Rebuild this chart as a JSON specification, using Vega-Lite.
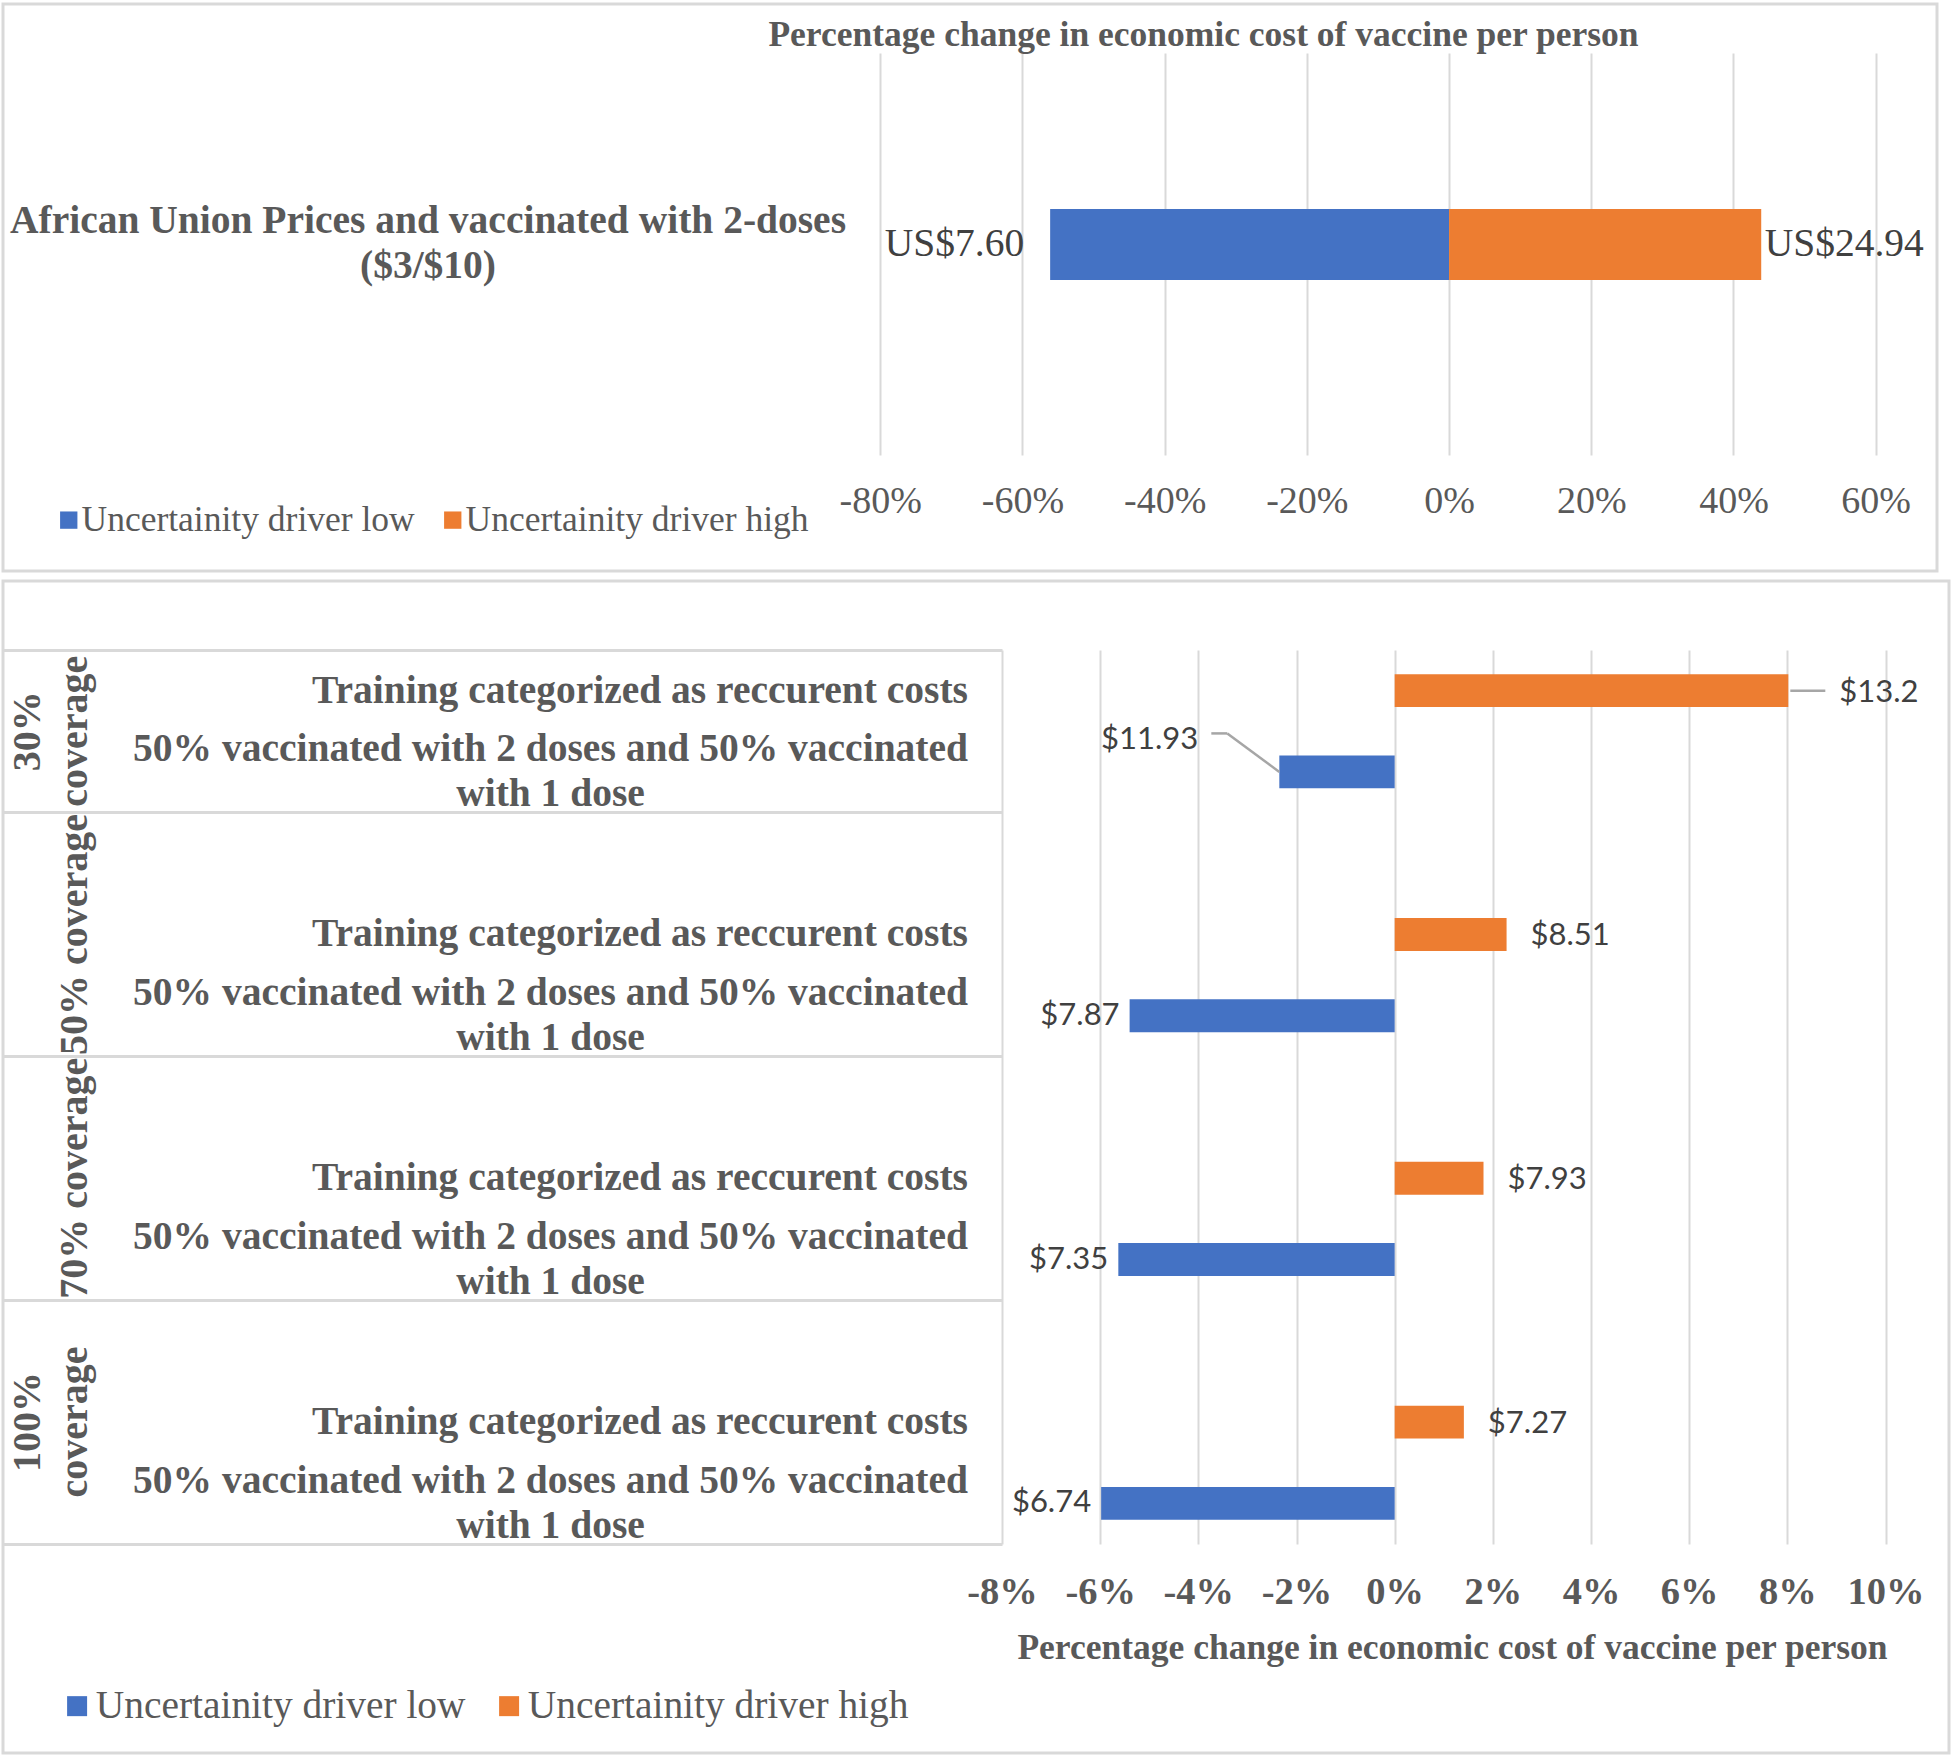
{
  "$schema": "https://vega.github.io/schema/vega-lite/v6.json",
  "background": "white",
  "padding": {"left": 0, "top": 2, "right": 0, "bottom": 0},
  "autosize": {"type": "pad"},
  "spacing": 6,
  "config": {
    "view": {"stroke": null},
    "axis": {"domain": false, "ticks": false, "grid": false, "labelFont": "Liberation Serif", "titleFont": "Liberation Serif", "labelColor": "#595959", "titleColor": "#595959", "labelOverlap": false, "labelLimit": 0, "labelBound": false, "labelFlush": false},
    "legend": {"labelFont": "Liberation Serif", "labelColor": "#595959", "labelLimit": 0, "symbolType": "square", "symbolStrokeWidth": 0}
  },
  "resolve": {"legend": {"color": "independent"}},
  "vconcat": [
    {
      "width": 1934,
      "height": 567,
      "view": {"stroke": "#d9d9d9", "strokeWidth": 3},
      "data": {"values": [
        {"scenario": "African Union Prices and vaccinated with 2-doses ($3/$10)", "driver": "Uncertainity driver low", "pct": -0.561, "cost": "US$7.60"},
        {"scenario": "African Union Prices and vaccinated with 2-doses ($3/$10)", "driver": "Uncertainity driver high", "pct": 0.439, "cost": "US$24.94"}
      ]},
      "resolve": {"axis": {"x": "independent", "y": "independent"}},
      "layer": [
        {
          "mark": {"type": "bar"},
          "encoding": {
            "y": {"field": "scenario", "type": "nominal", "scale": {"range": [49, 451], "paddingInner": 0.571, "paddingOuter": 1, "align": 0.471},
              "axis": {"orient": "left", "offset": -877.2, "title": null, "labelExpr": "split(replace(datum.label, ' (', '|('), '|')", "labelAlign": "center", "labelBaseline": "middle", "labelPadding": 452.7, "labelFontWeight": "bold", "labelFontSize": 39.5, "labelLineHeight": 45, "labelOffset": -23}},
            "x": {"field": "pct", "type": "quantitative", "stack": null, "scale": {"domain": [-0.8, 0.6], "range": [877.2, 1872.7], "nice": false, "zero": false},
              "axis": {"orient": "bottom", "offset": -116, "values": [-0.8, -0.6, -0.4, -0.2, 0, 0.2, 0.4, 0.6], "labelExpr": "(datum.value < 0 ? '-' : '') + format(abs(datum.value), '.0%')", "labelFontSize": 38, "labelPadding": 46, "labelBaseline": "middle", "title": null}},
            "color": {"field": "driver", "type": "nominal", "scale": {"domain": ["Uncertainity driver low", "Uncertainity driver high"], "range": ["#4472C4", "#ED7D31"]},
              "legend": {"orient": "none", "legendX": 48, "legendY": 498, "direction": "horizontal", "title": null, "labelFontSize": 35.5, "symbolSize": 300, "labelOffset": -5, "columnPadding": 20}}
          }
        },
        {
          "transform": [{"filter": "datum.driver == 'Uncertainity driver low'"}],
          "mark": {"type": "text", "align": "right", "baseline": "middle", "dx": -26, "font": "Liberation Serif", "fontSize": 39.5, "color": "#404040"},
          "encoding": {
            "y": {"field": "scenario", "type": "nominal", "scale": {"range": [49, 451], "paddingInner": 0.571, "paddingOuter": 1, "align": 0.471}, "axis": null},
            "x": {"field": "pct", "type": "quantitative", "scale": {"domain": [-0.8, 0.6], "range": [877.2, 1872.7], "nice": false, "zero": false},
              "axis": {"orient": "top", "values": [-0.8, -0.6, -0.4, -0.2, 0, 0.2, 0.4, 0.6], "grid": true, "gridColor": "#d9d9d9", "gridWidth": 2, "labels": false, "title": "Percentage change in economic cost of vaccine per person", "titleFontSize": 35.5, "titleFontWeight": "bold", "titleX": 1200, "titleY": 30, "titleAlign": "center", "titleBaseline": "middle", "titleAngle": 0}},
            "text": {"field": "cost"}
          }
        },
        {
          "transform": [{"filter": "datum.driver == 'Uncertainity driver high'"}],
          "mark": {"type": "text", "align": "left", "baseline": "middle", "dx": 3.5, "font": "Liberation Serif", "fontSize": 39.5, "color": "#404040"},
          "encoding": {
            "y": {"field": "scenario", "type": "nominal", "scale": {"range": [49, 451], "paddingInner": 0.571, "paddingOuter": 1, "align": 0.471}, "axis": null},
            "x": {"field": "pct", "type": "quantitative", "scale": {"domain": [-0.8, 0.6], "range": [877.2, 1872.7], "nice": false, "zero": false}, "axis": null},
            "text": {"field": "cost"}
          }
        }
      ]
    },
    {
      "width": 1946,
      "height": 1172,
      "view": {"stroke": "#d9d9d9", "strokeWidth": 3},
      "data": {"values": [
        {"coverage": "30% coverage", "scenario": "Training categorized as reccurent costs", "driver": "Uncertainity driver high", "pct": 0.0802, "cost": "$13.2"},
        {"coverage": "30% coverage", "scenario": "50% vaccinated with 2 doses and 50% vaccinated with 1 dose", "driver": "Uncertainity driver low", "pct": -0.0235, "cost": "$11.93"},
        {"coverage": "50% coverage", "scenario": "Training categorized as reccurent costs", "driver": "Uncertainity driver high", "pct": 0.0228, "cost": "$8.51"},
        {"coverage": "50% coverage", "scenario": "50% vaccinated with 2 doses and 50% vaccinated with 1 dose", "driver": "Uncertainity driver low", "pct": -0.054, "cost": "$7.87"},
        {"coverage": "70% coverage", "scenario": "Training categorized as reccurent costs", "driver": "Uncertainity driver high", "pct": 0.0181, "cost": "$7.93"},
        {"coverage": "70% coverage", "scenario": "50% vaccinated with 2 doses and 50% vaccinated with 1 dose", "driver": "Uncertainity driver low", "pct": -0.0563, "cost": "$7.35"},
        {"coverage": "100% coverage", "scenario": "Training categorized as reccurent costs", "driver": "Uncertainity driver high", "pct": 0.0141, "cost": "$7.27"},
        {"coverage": "100% coverage", "scenario": "50% vaccinated with 2 doses and 50% vaccinated with 1 dose", "driver": "Uncertainity driver low", "pct": -0.0598, "cost": "$6.74"}
      ]},
      "transform": [{"calculate": "datum.coverage + ' | ' + datum.scenario", "as": "key"}],
      "resolve": {"axis": {"x": "independent", "y": "independent"}},
      "layer": [
        {
          "mark": {"type": "bar", "height": {"band": 0.405}},
          "encoding": {
            "y": {"field": "key", "type": "nominal", "scale": {"domain": ["30% coverage | Training categorized as reccurent costs", "30% coverage | 50% vaccinated with 2 doses and 50% vaccinated with 1 dose", "50% coverage | ", "50% coverage | Training categorized as reccurent costs", "50% coverage | 50% vaccinated with 2 doses and 50% vaccinated with 1 dose", "70% coverage | ", "70% coverage | Training categorized as reccurent costs", "70% coverage | 50% vaccinated with 2 doses and 50% vaccinated with 1 dose", "100% coverage | ", "100% coverage | Training categorized as reccurent costs", "100% coverage | 50% vaccinated with 2 doses and 50% vaccinated with 1 dose"], "range": [69, 963], "paddingInner": 0, "paddingOuter": 0},
              "axis": {"orient": "left", "offset": -999, "title": null,
                "labelExpr": "indexof(datum.value, 'Training') >= 0 ? 'Training categorized as reccurent costs' : (indexof(datum.value, 'dose') >= 0 ? ['50% vaccinated with 2 doses and 50% vaccinated', 'with 1 dose'] : '')",
                "labelAlign": {"condition": {"test": "indexof(datum.value, 'dose') >= 0", "value": "center"}, "value": "right"},
                "labelPadding": {"condition": {"test": "indexof(datum.value, 'dose') >= 0", "value": 452}, "value": 34.5},
                "labelOffset": {"condition": {"test": "indexof(datum.value, 'dose') >= 0", "value": -22.5}, "value": 0},
                "labelBaseline": "middle", "labelFontWeight": "bold", "labelFontSize": 39.5, "labelLineHeight": 45}},
            "x": {"field": "pct", "type": "quantitative", "stack": null, "scale": {"domain": [-0.08, 0.1], "range": [999, 1882.5], "nice": false, "zero": false},
              "axis": {"orient": "bottom", "offset": -209, "values": [-0.08, -0.06, -0.04, -0.02, 0, 0.02, 0.04, 0.06, 0.08, 0.1], "labelExpr": "(datum.value < 0 ? '-' : '') + format(abs(datum.value), '.0%')", "labelFontSize": 38.5, "labelFontWeight": "bold", "labelPadding": 47, "labelBaseline": "middle",
                "title": "Percentage change in economic cost of vaccine per person", "titleFontSize": 35.5, "titleFontWeight": "bold", "titleX": 1449, "titleY": 103, "titleAlign": "center", "titleBaseline": "middle"}},
            "color": {"field": "driver", "type": "nominal", "scale": {"domain": ["Uncertainity driver low", "Uncertainity driver high"], "range": ["#4472C4", "#ED7D31"]},
              "legend": {"orient": "none", "legendX": 54.4, "legendY": 1105, "direction": "horizontal", "title": null, "labelFontSize": 39.4, "symbolSize": 400, "labelOffset": -1, "columnPadding": 23}}
          }
        },
        {
          "transform": [{"filter": "datum.driver == 'Uncertainity driver high' && datum.coverage != '30% coverage'"}],
          "mark": {"type": "text", "align": "left", "baseline": "middle", "dx": 24, "dy": 2, "font": "Lato", "fontSize": 31, "color": "#404040"},
          "encoding": {
            "y": {"field": "key", "type": "nominal", "scale": {"domain": ["30% coverage | Training categorized as reccurent costs", "30% coverage | 50% vaccinated with 2 doses and 50% vaccinated with 1 dose", "50% coverage | ", "50% coverage | Training categorized as reccurent costs", "50% coverage | 50% vaccinated with 2 doses and 50% vaccinated with 1 dose", "70% coverage | ", "70% coverage | Training categorized as reccurent costs", "70% coverage | 50% vaccinated with 2 doses and 50% vaccinated with 1 dose", "100% coverage | ", "100% coverage | Training categorized as reccurent costs", "100% coverage | 50% vaccinated with 2 doses and 50% vaccinated with 1 dose"], "range": [69, 963], "paddingInner": 0, "paddingOuter": 0},
              "axis": {"orient": "left", "offset": -999, "title": null, "labelAngle": 270, "labelAlign": "center", "labelBaseline": "middle", "labelPadding": 975, "labelLineHeight": 47, "labelFontSize": 40, "labelFontWeight": "bold",
                "labelExpr": "indexof(datum.value, 'Training') < 0 ? '' : (indexof(datum.value, '30%') == 0 ? ['30%', 'coverage'] : (indexof(datum.value, '100%') == 0 ? ['100%', 'coverage'] : ['', split(datum.value, ' | ')[0]]))",
                "labelOffset": {"condition": {"test": "indexof(datum.value, '30%') == 0", "value": 40.6}, "value": 0}}},
            "x": {"field": "pct", "type": "quantitative", "scale": {"domain": [-0.08, 0.1], "range": [999, 1882.5], "nice": false, "zero": false},
              "axis": {"orient": "top", "values": [-0.08, -0.06, -0.04, -0.02, 0, 0.02, 0.04, 0.06, 0.08, 0.1], "grid": true, "gridColor": "#d9d9d9", "gridWidth": 2, "labels": false, "title": null}},
            "text": {"field": "cost"}
          }
        },
        {
          "transform": [{"filter": "datum.driver == 'Uncertainity driver low' && datum.coverage != '30% coverage'"}],
          "mark": {"type": "text", "align": "right", "baseline": "middle", "dx": -10, "font": "Lato", "fontSize": 31, "color": "#404040"},
          "encoding": {
            "y": {"field": "key", "type": "nominal", "scale": {"domain": ["30% coverage | Training categorized as reccurent costs", "30% coverage | 50% vaccinated with 2 doses and 50% vaccinated with 1 dose", "50% coverage | ", "50% coverage | Training categorized as reccurent costs", "50% coverage | 50% vaccinated with 2 doses and 50% vaccinated with 1 dose", "70% coverage | ", "70% coverage | Training categorized as reccurent costs", "70% coverage | 50% vaccinated with 2 doses and 50% vaccinated with 1 dose", "100% coverage | ", "100% coverage | Training categorized as reccurent costs", "100% coverage | 50% vaccinated with 2 doses and 50% vaccinated with 1 dose"], "range": [69, 963], "paddingInner": 0, "paddingOuter": 0},
              "axis": {"orient": "left", "offset": -999, "title": null, "labels": false, "ticks": true, "tickSize": 999, "tickColor": "#d9d9d9", "tickWidth": 3, "bandPosition": 1, "tickExtra": true,
                "tickOpacity": {"condition": {"test": "datum.extra || (isString(datum.value) && indexof(datum.value, 'dose') >= 0)", "value": 1}, "value": 0}}},
            "x": {"field": "pct", "type": "quantitative", "scale": {"domain": [-0.08, 0.1], "range": [999, 1882.5], "nice": false, "zero": false}, "axis": null},
            "text": {"field": "cost"}
          }
        },
        {
          "transform": [{"filter": "datum.driver == 'Uncertainity driver high' && datum.coverage == '30% coverage'"}],
          "mark": {"type": "text", "align": "left", "baseline": "middle", "dx": 51, "dy": 2, "font": "Lato", "fontSize": 31, "color": "#404040"},
          "encoding": {
            "y": {"field": "key", "type": "nominal", "scale": {"domain": ["30% coverage | Training categorized as reccurent costs", "30% coverage | 50% vaccinated with 2 doses and 50% vaccinated with 1 dose", "50% coverage | ", "50% coverage | Training categorized as reccurent costs", "50% coverage | 50% vaccinated with 2 doses and 50% vaccinated with 1 dose", "70% coverage | ", "70% coverage | Training categorized as reccurent costs", "70% coverage | 50% vaccinated with 2 doses and 50% vaccinated with 1 dose", "100% coverage | ", "100% coverage | Training categorized as reccurent costs", "100% coverage | 50% vaccinated with 2 doses and 50% vaccinated with 1 dose"], "range": [69, 963], "paddingInner": 0, "paddingOuter": 0}, "axis": null},
            "x": {"field": "pct", "type": "quantitative", "scale": {"domain": [-0.08, 0.1], "range": [999, 1882.5], "nice": false, "zero": false}, "axis": null},
            "text": {"field": "cost"}
          }
        },
        {
          "transform": [{"filter": "datum.driver == 'Uncertainity driver low' && datum.coverage == '30% coverage'"}],
          "mark": {"type": "text", "align": "right", "baseline": "middle", "dx": -81, "dy": -32, "font": "Lato", "fontSize": 31, "color": "#404040"},
          "encoding": {
            "y": {"field": "key", "type": "nominal", "scale": {"domain": ["30% coverage | Training categorized as reccurent costs", "30% coverage | 50% vaccinated with 2 doses and 50% vaccinated with 1 dose", "50% coverage | ", "50% coverage | Training categorized as reccurent costs", "50% coverage | 50% vaccinated with 2 doses and 50% vaccinated with 1 dose", "70% coverage | ", "70% coverage | Training categorized as reccurent costs", "70% coverage | 50% vaccinated with 2 doses and 50% vaccinated with 1 dose", "100% coverage | ", "100% coverage | Training categorized as reccurent costs", "100% coverage | 50% vaccinated with 2 doses and 50% vaccinated with 1 dose"], "range": [69, 963], "paddingInner": 0, "paddingOuter": 0}, "axis": null},
            "x": {"field": "pct", "type": "quantitative", "scale": {"domain": [-0.08, 0.1], "range": [999, 1882.5], "nice": false, "zero": false}, "axis": null},
            "text": {"field": "cost"}
          }
        },
        {
          "transform": [{"filter": "datum.driver == 'Uncertainity driver high' && datum.coverage == '30% coverage'"}],
          "mark": {"type": "rule", "color": "#a6a6a6", "strokeWidth": 2.5, "xOffset": 2, "x2Offset": 37},
          "encoding": {
            "y": {"field": "key", "type": "nominal", "scale": {"domain": ["30% coverage | Training categorized as reccurent costs", "30% coverage | 50% vaccinated with 2 doses and 50% vaccinated with 1 dose", "50% coverage | ", "50% coverage | Training categorized as reccurent costs", "50% coverage | 50% vaccinated with 2 doses and 50% vaccinated with 1 dose", "70% coverage | ", "70% coverage | Training categorized as reccurent costs", "70% coverage | 50% vaccinated with 2 doses and 50% vaccinated with 1 dose", "100% coverage | ", "100% coverage | Training categorized as reccurent costs", "100% coverage | 50% vaccinated with 2 doses and 50% vaccinated with 1 dose"], "range": [69, 963], "paddingInner": 0, "paddingOuter": 0}, "axis": null},
            "x": {"field": "pct", "type": "quantitative", "scale": {"domain": [-0.08, 0.1], "range": [999, 1882.5], "nice": false, "zero": false}, "axis": null},
            "x2": {"field": "pct"}
          }
        },
        {
          "transform": [{"filter": "datum.driver == 'Uncertainity driver low' && datum.coverage == '30% coverage'"}],
          "mark": {"type": "rule", "color": "#a6a6a6", "strokeWidth": 2.5, "x2Offset": -52, "y2Offset": -38.5},
          "encoding": {
            "y": {"field": "key", "type": "nominal", "scale": {"domain": ["30% coverage | Training categorized as reccurent costs", "30% coverage | 50% vaccinated with 2 doses and 50% vaccinated with 1 dose", "50% coverage | ", "50% coverage | Training categorized as reccurent costs", "50% coverage | 50% vaccinated with 2 doses and 50% vaccinated with 1 dose", "70% coverage | ", "70% coverage | Training categorized as reccurent costs", "70% coverage | 50% vaccinated with 2 doses and 50% vaccinated with 1 dose", "100% coverage | ", "100% coverage | Training categorized as reccurent costs", "100% coverage | 50% vaccinated with 2 doses and 50% vaccinated with 1 dose"], "range": [69, 963], "paddingInner": 0, "paddingOuter": 0}, "axis": null},
            "y2": {"field": "key"},
            "x": {"field": "pct", "type": "quantitative", "scale": {"domain": [-0.08, 0.1], "range": [999, 1882.5], "nice": false, "zero": false}, "axis": null},
            "x2": {"field": "pct"}
          }
        },
        {
          "transform": [{"filter": "datum.driver == 'Uncertainity driver low' && datum.coverage == '30% coverage'"}],
          "mark": {"type": "rule", "color": "#a6a6a6", "strokeWidth": 2.5, "xOffset": -52, "x2Offset": -68, "yOffset": -38.5},
          "encoding": {
            "y": {"field": "key", "type": "nominal", "scale": {"domain": ["30% coverage | Training categorized as reccurent costs", "30% coverage | 50% vaccinated with 2 doses and 50% vaccinated with 1 dose", "50% coverage | ", "50% coverage | Training categorized as reccurent costs", "50% coverage | 50% vaccinated with 2 doses and 50% vaccinated with 1 dose", "70% coverage | ", "70% coverage | Training categorized as reccurent costs", "70% coverage | 50% vaccinated with 2 doses and 50% vaccinated with 1 dose", "100% coverage | ", "100% coverage | Training categorized as reccurent costs", "100% coverage | 50% vaccinated with 2 doses and 50% vaccinated with 1 dose"], "range": [69, 963], "paddingInner": 0, "paddingOuter": 0}, "axis": null},
            "x": {"field": "pct", "type": "quantitative", "scale": {"domain": [-0.08, 0.1], "range": [999, 1882.5], "nice": false, "zero": false}, "axis": null},
            "x2": {"field": "pct"}
          }
        }
      ]
    }
  ]
}
